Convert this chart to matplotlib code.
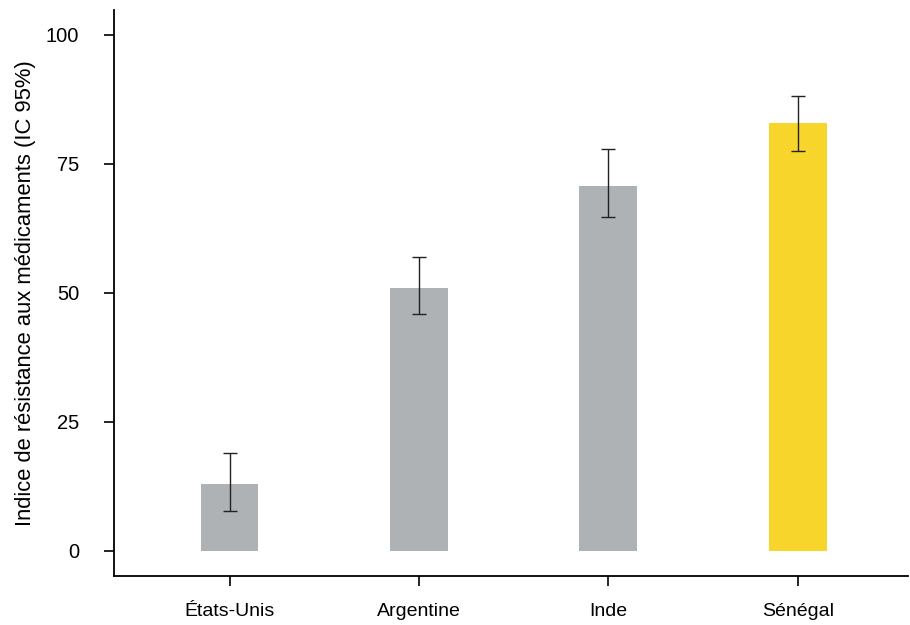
import matplotlib.pyplot as plt

# data
countries = ['États-Unis', 'Argentine', 'Inde', 'Sénégal']
values = [13.0, 51.0, 70.7, 82.9]
ci_low = [7.8, 45.9, 64.7, 77.4]
ci_high = [19.0, 57.0, 77.9, 88.2]
bar_colors = ['#aeb2b4', '#aeb2b4', '#aeb2b4', '#f8d52a']
yticks = [0, 25, 50, 75, 100]

plt.rcParams['font.family'] = ['Liberation Sans', 'DejaVu Sans']

fig = plt.figure(figsize=(9.1, 6.25), dpi=100)
ax = fig.add_axes([0.1253, 0.079, 0.872, 0.905])

x = list(range(len(countries)))
err = [[v - lo for v, lo in zip(values, ci_low)],
       [hi - v for v, hi in zip(values, ci_high)]]
ax.bar(x, values, width=0.305, color=bar_colors)
ax.errorbar(x, values, yerr=err, fmt='none', ecolor='#222222',
            elinewidth=1, capsize=5, capthick=1)

ax.set_xlim(-0.61, 3.58)
ax.set_ylim(-4.8, 104.8)
ax.set_yticks(yticks)
ax.set_xticks(x)
ax.set_xticklabels(countries)
ax.tick_params(axis='x', length=7, width=1.2, pad=13, labelsize=14)
ax.tick_params(axis='y', length=7, width=1.2, pad=18, labelsize=14.5)
ax.set_ylabel('Indice de résistance aux médicaments (IC 95%)', fontsize=15.8, labelpad=7)

for s in ['top', 'right']:
    ax.spines[s].set_visible(False)
for s in ['left', 'bottom']:
    ax.spines[s].set_linewidth(1.3)

fig.savefig('out.png')
